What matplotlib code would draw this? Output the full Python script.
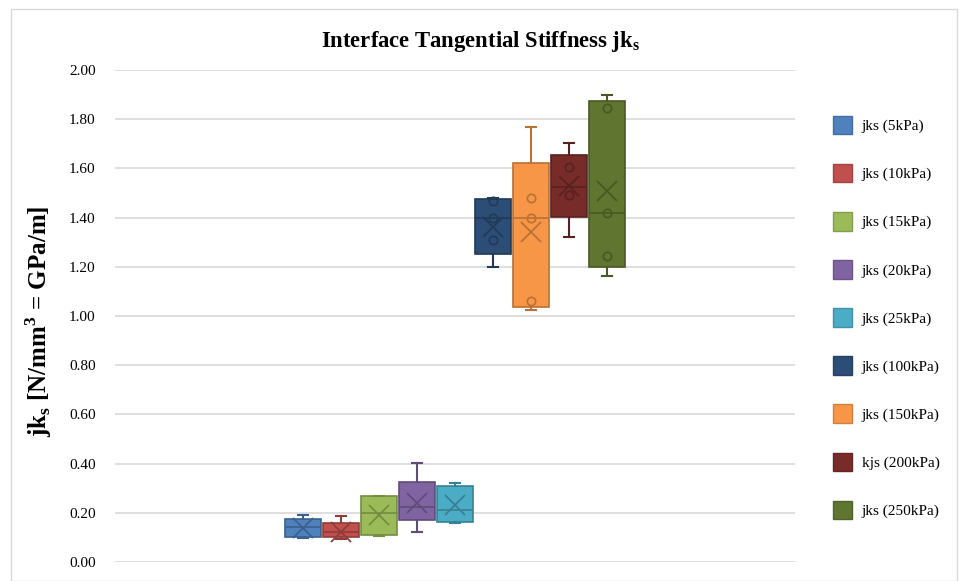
import numpy as np
import matplotlib.pyplot as plt
from matplotlib.patches import Patch, Rectangle
import matplotlib.colors as mcolors

plt.rcParams['font.family'] = ['Liberation Serif', 'DejaVu Serif']
plt.rcParams['mathtext.fontset'] = 'custom'
plt.rcParams['mathtext.rm'] = 'Liberation Serif'
plt.rcParams['mathtext.bf'] = 'Liberation Serif:bold'

labels = ['jks (5kPa)', 'jks (10kPa)', 'jks (15kPa)', 'jks (20kPa)', 'jks (25kPa)',
          'jks (100kPa)', 'jks (150kPa)', 'kjs (200kPa)', 'jks (250kPa)']
colors = ['#4F81BD', '#C0504D', '#9BBB59', '#8064A2', '#4BACC6',
          '#2C4D75', '#F79646', '#772C2A', '#5F7530']

# box stats
whislo = [0.098, 0.093, 0.106, 0.122, 0.159, 1.199, 1.024, 1.321, 1.163]
q1     = [0.102, 0.102, 0.110, 0.171, 0.163, 1.252, 1.037, 1.402, 1.199]
med    = [0.142, 0.122, 0.199, 0.224, 0.211, 1.398, 1.398, 1.524, 1.419]
q3     = [0.175, 0.159, 0.268, 0.325, 0.309, 1.476, 1.622, 1.654, 1.874]
whishi = [0.191, 0.187, 0.268, 0.402, 0.321, 1.480, 1.768, 1.703, 1.898]
means  = [0.138, 0.120, 0.191, 0.240, 0.232, 1.362, 1.341, 1.530, 1.508]
# inner points (only visible on the high-pressure boxes)
inner = [[], [], [], [], [],
         [1.467, 1.398, 1.309],
         [1.480, 1.398, 1.061],
         [1.606, 1.492],
         [1.846, 1.419, 1.244]]


def darker(c, f=0.75):
    r, g, b = mcolors.to_rgb(c)
    return (r * f, g * f, b * f)


fig = plt.figure(figsize=(9.61, 5.81), dpi=100)
fig.patches.append(Rectangle((0.011, 0.0), 0.985, 0.985, transform=fig.transFigure,
                             fill=False, edgecolor='#D9D9D9', lw=1))
ax = fig.add_axes([0.1197, 0.0327, 0.7076, 0.8468])

for i in range(len(labels)):
    st = [dict(whislo=whislo[i], q1=q1[i], med=med[i], q3=q3[i],
               whishi=whishi[i], mean=means[i], fliers=[])]
    ec = darker(colors[i])
    ax.bxp(st, positions=[i], widths=0.93, patch_artist=True, showmeans=True,
           capwidths=0.28,
           boxprops=dict(facecolor=colors[i], edgecolor=ec, lw=1.2),
           medianprops=dict(color=ec, lw=1.2),
           whiskerprops=dict(color=ec, lw=1.5),
           capprops=dict(color=ec, lw=1.5),
           meanprops=dict(marker='x', markersize=14, markeredgecolor=ec,
                          markeredgewidth=1.3),
           zorder=3)
    if inner[i]:
        ax.plot([i] * len(inner[i]), inner[i], 'o', mfc='none', mec=ec,
                ms=6, mew=1.2, zorder=4)

ax.set_xlim(-4.95, 12.95)
ax.set_ylim(0, 2.0)
ax.set_yticks(np.arange(0, 2.01, 0.2))
ax.set_yticklabels([f'{v:.2f}' for v in np.arange(0, 2.01, 0.2)], fontsize=11)
ax.set_xticks([])
ax.grid(axis='y', color='#D9D9D9', lw=1.2, zorder=0)
ax.set_axisbelow(True)
for s in ax.spines.values():
    s.set_visible(False)
ax.tick_params(axis='y', length=0, pad=14)

ax.set_ylabel(r'jk$_\mathregular{s}$ [N/mm$^\mathregular{3}$ = GPa/m]', fontsize=18,
              fontweight='bold', labelpad=6)
ax.yaxis.set_label_coords(-0.09, 0.49)
fig.text(0.5, 0.928, r'Interface Tangential Stiffness jk$_\mathregular{s}$',
         ha='center', va='center', fontsize=16.3, fontweight='bold')

handles = [Patch(facecolor=c, edgecolor=darker(c, 0.85)) for c in colors]
fig.legend(handles, labels, loc='center left', bbox_to_anchor=(0.852, 0.4535),
           frameon=False, fontsize=11, labelspacing=1.93, handlelength=1.3,
           handleheight=1.5, handletextpad=0.6)

fig.savefig('out.png', dpi=100)
